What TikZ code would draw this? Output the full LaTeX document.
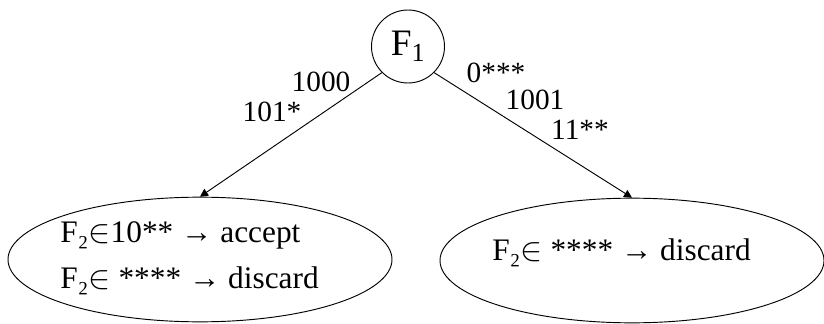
\documentclass[tikz,border=0pt]{standalone}
\usepackage{fontspec}
\setmainfont{Liberation Serif}
\usetikzlibrary{shapes.geometric,arrows.meta}

\tikzset{
  field/.style={draw, circle, minimum size=54.75pt, inner sep=0pt, line width=0.7pt,
    font=\fontsize{28}{30}\selectfont},
  leaf/.style={draw, ellipse, minimum width=288pt, minimum height=93.5pt, inner sep=0pt, line width=0.7pt},
  rule/.style={anchor=base west, inner sep=0pt, font=\fontsize{23.5}{26}\selectfont},
  mask/.style={anchor=base, inner sep=0pt, font=\fontsize{22}{24}\selectfont},
  edge/.style={-{Triangle[length=6pt,width=6pt]}, line width=0.7pt}
}
\newcommand{\isin}{\ensuremath{\in}}

\begin{document}
\begin{tikzpicture}[x=0.75pt, y=-0.75pt]
  \useasboundingbox (0,0) rectangle (824,324);

  % root and the two leaves
  \node[field] (f1) at (408,46.5) {F\textsubscript{1}};
  \node[leaf] (left) at (200,259.5) {};
  \node[leaf] (right) at (632,260.5) {};

  \draw[edge] (f1.south west) -- (left.north);
  \draw[edge] (f1.south east) -- (right.north);

  % masks on the branches
  \node[mask] (m1) at (321,92) {1000};
  \node[mask] (m2) at (272,122) {101*};
  \node[mask] (m3) at (496,83) {0***};
  \node[mask] (m4) at (535,110) {1001};
  \node[mask] (m5) at (580,140) {11**};

  % rules in the leaves
  \node[rule] (l1) at (60,242) {F₂\isin10** → accept};
  \node[rule] (l2) at (60,288) {F₂\isin\ **** → discard};
  \node[rule] (r1) at (492,260) {F₂\isin\ **** → discard};
\end{tikzpicture}
\end{document}
